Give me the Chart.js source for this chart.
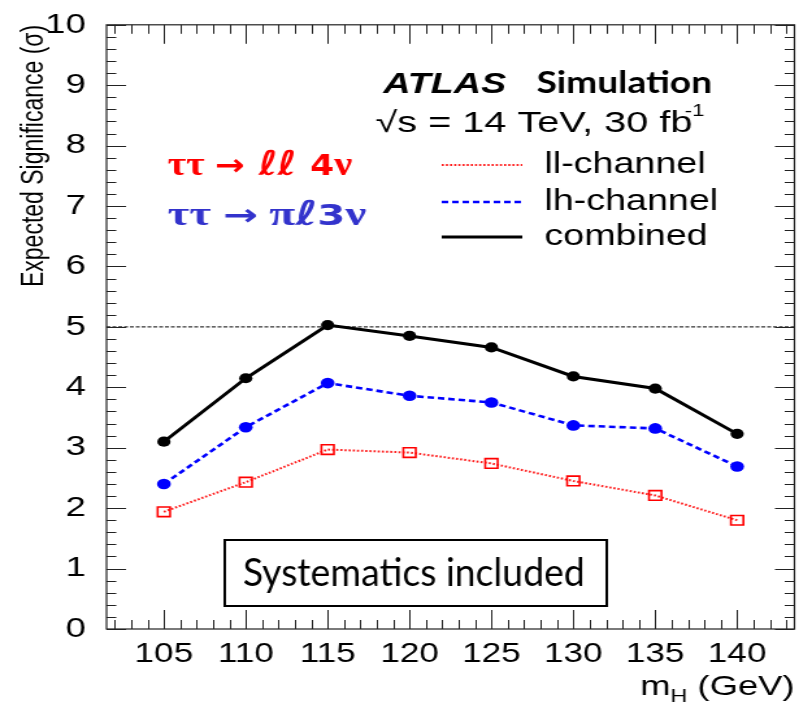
<!DOCTYPE html>
<html>
<head>
<meta charset="utf-8">
<title>Expected significance vs mH</title>
<script src="https://cdn.jsdelivr.net/npm/chart.js@4"></script>
<style>
  html, body { margin: 0; padding: 0; background: #fff; overflow: hidden; }
  /* plot is drawn narrow and stretched sideways, like the original figure */
  #wrap { width: 625px; height: 709px; transform: scaleX(1.2992); transform-origin: 0 0; }
</style>
</head>
<body>
<div id="wrap"><canvas id="sig" width="625" height="709"></canvas></div>
<script>
// Higgs mass points (GeV)
const masses = [105, 110, 115, 120, 125, 130, 135, 140];

// expected significance per channel
const llChannel = [1.94, 2.43, 2.97, 2.92, 2.74, 2.45, 2.21, 1.80];
const lhChannel = [2.40, 3.34, 4.07, 3.86, 3.75, 3.37, 3.32, 2.69];
const combined  = [3.10, 4.15, 5.03, 4.85, 4.66, 4.18, 3.98, 3.23];

const xTickValues = [105, 110, 115, 120, 125, 130, 135, 140];
const yTickValues = [0, 1, 2, 3, 4, 5, 6, 7, 8, 9, 10];
const discoveryLevel = 5;

const HELV = '"Liberation Sans", Helvetica, Arial, sans-serif';

function pts(vals) {
    return masses.map((m, i) => ({ x: m, y: vals[i] }));
}

// draw a run of [text, font] pieces, optionally squeezed/stretched to a given width
function drawRich(ctx, pieces, x, y, color, width) {
    ctx.save();
    ctx.fillStyle = color;
    ctx.textBaseline = 'alphabetic';
    ctx.textAlign = 'left';
    let total = 0;
    const widths = pieces.map(([t, f]) => { ctx.font = f; const w = ctx.measureText(t).width; total += w; return w; });
    ctx.translate(x, y);
    if (width) ctx.scale(width / total, 1);
    let cx = 0;
    pieces.forEach(([t, f], i) => { ctx.font = f; ctx.fillText(t, cx, 0); cx += widths[i]; });
    ctx.restore();
}

function drawText(ctx, str, x, y, font, color, width) {
    drawRich(ctx, [[str, font]], x, y, color, width);
}

// ROOT style frame: inward ticks on all four sides, 5 sigma line, legend, labels
const rootFrame = {
    id: 'rootFrame',
    beforeDatasetsDraw(chart) {
        const { ctx, chartArea: a, scales: { y } } = chart;
        const py = y.getPixelForValue(discoveryLevel);
        ctx.save();
        ctx.strokeStyle = '#000';
        ctx.lineWidth = 1;
        ctx.setLineDash([3, 1.5]);
        ctx.beginPath();
        ctx.moveTo(a.left, py);
        ctx.lineTo(a.right, py);
        ctx.stroke();
        ctx.restore();
    },
    afterDatasetsDraw(chart) {
        const { ctx, chartArea: a, scales: { x, y } } = chart;
        ctx.save();
        ctx.strokeStyle = '#222';
        ctx.lineWidth = 1.2;
        ctx.strokeRect(a.left, a.top, a.right - a.left, a.bottom - a.top);

        ctx.lineWidth = 1;
        ctx.beginPath();
        for (let v = Math.ceil(x.min); v <= x.max; v++) {
            const px = Math.round(x.getPixelForValue(v)) + 0.5;
            const len = v % 5 === 0 ? 19 : 9;
            ctx.moveTo(px, a.bottom); ctx.lineTo(px, a.bottom - len);
            ctx.moveTo(px, a.top); ctx.lineTo(px, a.top + len);
        }
        for (let k = 0; k <= 50; k++) {
            const py = Math.round(y.getPixelForValue(k / 5)) + 0.5;
            const len = k % 5 === 0 ? 15 : 7.5;
            ctx.moveTo(a.left, py); ctx.lineTo(a.left + len, py);
            ctx.moveTo(a.right, py); ctx.lineTo(a.right - len, py);
        }
        ctx.stroke();
        ctx.restore();

        // header
        drawText(ctx, 'ATLAS', 295, 93, 'italic bold 29px ' + HELV, '#000');
        drawText(ctx, 'Simulation', 413, 93, 'bold 30px Lato, sans-serif', '#000', 135);
        drawText(ctx, '\u221As = 14 TeV, 30 fb', 289, 132, '29px ' + HELV, '#000', 244);
        drawText(ctx, '-1', 527, 116, '17px ' + HELV, '#000');

        // legend, styles taken from the datasets
        const rows = [165, 202, 237];
        chart.data.datasets.forEach((ds, i) => {
            ctx.save();
            ctx.strokeStyle = ds.borderColor;
            ctx.lineWidth = ds.borderWidth;
            ctx.setLineDash(ds.borderDash || []);
            ctx.beginPath();
            ctx.moveTo(340, rows[i]);
            ctx.lineTo(402, rows[i]);
            ctx.stroke();
            ctx.restore();
            drawText(ctx, ds.label, 419, rows[i] + 8, '29px ' + HELV, '#000');
        });

        // decay modes
        const tau = 'bold 34px "Liberation Serif", "DejaVu Serif", serif';
        const arrow = 'bold 30px "DejaVu Sans", sans-serif';
        const ell = 'bold italic 34px "DejaVu Sans", sans-serif';
        const num = 'bold 29px "DejaVu Sans", sans-serif';
        const nu = 'bold 34px "Liberation Serif", "DejaVu Serif", serif';
        drawRich(ctx, [['\u03C4\u03C4 ', tau], ['\u2192', arrow], [' \u2113\u2113 ', ell], ['4', num], ['\u03BD', nu]],
            129, 175, '#ff0000', 142);
        drawRich(ctx, [['\u03C4\u03C4 ', tau], ['\u2192', arrow], [' \u03C0', tau], ['\u2113', ell], ['3', num], ['\u03BD', nu]],
            129, 225, '#3333cc', 153);

        // systematics box
        ctx.save();
        ctx.strokeStyle = '#000';
        ctx.lineWidth = 2;
        ctx.strokeRect(173, 540, 294, 66);
        ctx.restore();
        drawText(ctx, 'Systematics included', 187, 586, '39px Lato, sans-serif', '#000', 263);

        // x axis title with subscript
        const base = 695;
        ctx.save();
        ctx.font = '28px ' + HELV;
        const wTail = ctx.measureText(' (GeV)').width;
        const wM = ctx.measureText('m').width;
        ctx.font = '18px ' + HELV;
        const wH = ctx.measureText('H').width;
        ctx.restore();
        const xEnd = a.right;
        drawText(ctx, ' (GeV)', xEnd - wTail, base, '28px ' + HELV, '#000');
        drawText(ctx, 'H', xEnd - wTail - wH, base + 7, '18px ' + HELV, '#000');
        drawText(ctx, 'm', xEnd - wTail - wH - wM, base, '28px ' + HELV, '#000');
    }
};

new Chart(document.getElementById('sig'), {
    type: 'line',
    data: {
        datasets: [
            {
                label: 'll-channel', data: pts(llChannel),
                borderColor: '#ff1a1a', borderWidth: 2, borderDash: [1.6, 1.6],
                pointStyle: 'rect', pointRadius: 6.8, pointBorderWidth: 1.6,
                pointBorderColor: '#ff0000', pointBackgroundColor: 'rgba(255,255,255,0)'
            },
            {
                label: 'lh-channel', data: pts(lhChannel),
                borderColor: '#0000ff', borderWidth: 2.6, borderDash: [5, 3],
                pointStyle: 'circle', pointRadius: 5.3, pointBorderWidth: 0,
                pointBackgroundColor: '#0000ff'
            },
            {
                label: 'combined', data: pts(combined),
                borderColor: '#000', borderWidth: 3,
                pointStyle: 'circle', pointRadius: 5.1, pointBorderWidth: 0,
                pointBackgroundColor: '#000'
            }
        ]
    },
    options: {
        responsive: false,
        animation: false,
        layout: { padding: { left: 0, right: 13.5, top: 19, bottom: 0 } },
        plugins: { legend: { display: false }, tooltip: { enabled: false } },
        elements: { line: { tension: 0 } },
        scales: {
            x: {
                type: 'linear', min: 101.5, max: 143.5,
                grid: { display: false }, border: { display: false },
                afterBuildTicks: s => { s.ticks = xTickValues.map(v => ({ value: v })); },
                afterFit: s => { s.height = 80; },
                ticks: { font: { family: HELV, size: 27 }, color: '#000', padding: 1, maxRotation: 0, autoSkip: false }
            },
            y: {
                min: 0, max: 10,
                grid: { display: false }, border: { display: false },
                afterBuildTicks: s => { s.ticks = yTickValues.map(v => ({ value: v })); },
                afterFit: s => { s.width = 82; },
                ticks: { font: { family: HELV, size: 28 }, color: '#000', padding: 8, autoSkip: false },
                title: {
                    display: true, text: 'Expected Significance (\u03C3)', align: 'end',
                    font: { family: HELV, size: 23 }, color: '#000', padding: { top: 13, bottom: 0 }
                }
            }
        }
    },
    plugins: [rootFrame]
});
</script>
</body>
</html>
